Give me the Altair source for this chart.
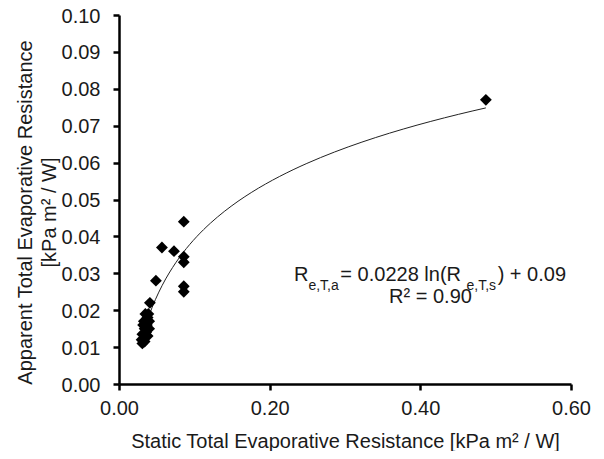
import altair as alt
import pandas as pd

# Static vs apparent total evaporative resistance [kPa m2 / W]
static_r = [0.487,
            0.086, 0.086, 0.086, 0.086, 0.086,
            0.057, 0.073, 0.049, 0.041,
            0.035, 0.038, 0.040, 0.033, 0.037, 0.034, 0.040, 0.031,
            0.038, 0.030, 0.034, 0.031, 0.036, 0.039, 0.032]
apparent_r = [0.077,
              0.044, 0.0345, 0.033, 0.0265, 0.025,
              0.037, 0.036, 0.028, 0.022,
              0.019, 0.018, 0.017, 0.017, 0.016, 0.015, 0.015, 0.0135,
              0.013, 0.012, 0.0115, 0.011, 0.014, 0.019, 0.016]

x_ticks = [0.0, 0.2, 0.4, 0.6]
y_ticks = [0.00, 0.01, 0.02, 0.03, 0.04, 0.05, 0.06, 0.07, 0.08, 0.09, 0.10]

eq_main = ["R", " = 0.0228 ln(R", ") + 0.09"]
eq_sub = ["e,T,a", "e,T,s"]
r2_text = "R² = 0.90"

df = pd.DataFrame({"static": static_r, "apparent": apparent_r})

FONT = "Liberation Sans"
TXT = "#1a1a1a"
FS = 20
FSS = 14

x_enc = alt.X("static:Q",
              scale=alt.Scale(domain=[0, 0.6], nice=False),
              axis=alt.Axis(values=x_ticks, format=".2f", grid=False,
                            labelFlush=False, labelOverlap=False,
                            title="Static Total Evaporative Resistance [kPa m² / W]",
                            titleBaseline="alphabetic", titleY=63,
                            labelPadding=8))
y_enc = alt.Y("apparent:Q",
              scale=alt.Scale(domain=[0, 0.1], nice=False),
              axis=alt.Axis(values=y_ticks, tickCount=11, format=".2f", grid=False,
                            labelFlush=False, labelOverlap=False, labelOffset=1,
                            title=["Apparent Total Evaporative Resistance", "[kPa m² / W]"],
                            titleAngle=-90, titleBaseline="top", titleAlign="center",
                            titleX=-104, titleY=197, titleLineHeight=24,
                            labelPadding=13))

trend = alt.Chart(df).transform_regression(
    "static", "apparent", method="log"
).mark_line(color="#222222", strokeWidth=1).encode(x=x_enc, y=y_enc)

points = alt.Chart(df).mark_point(shape="diamond", filled=True, size=140,
                                  color="black", opacity=1).encode(x=x_enc, y=y_enc)

# Equation pieces (pixel positions inside the plot area)
base_y = 266
sub_y = 275
w = lambda s, f: sum({"R": .722, "e": .556, ",": .278, "T": .611, "a": .556, "s": .5,
                      " ": .278, "=": .584, "0": .556, ".": .278, "2": .556, "8": .556,
                      "l": .222, "n": .556, "(": .333, ")": .333, "+": .584, "9": .556}[c]
                     for c in s) * f
x0 = 175
pieces = []
cx = x0
order = [(eq_main[0], FS), (eq_sub[0], FSS), (eq_main[1], FS), (eq_sub[1], FSS), (eq_main[2], FS)]
for txt, f in order:
    pieces.append((txt, f, cx))
    cx += w(txt, f)

layers = [trend, points]
for txt, f, px in pieces:
    layers.append(
        alt.Chart(df.head(1)).mark_text(align="left", baseline="alphabetic", font=FONT,
                                        fontSize=f, color=TXT).encode(
            x=alt.value(px), y=alt.value(base_y if f == FS else sub_y),
            text=alt.value(txt.replace(" ", "\u00a0")))
    )
layers.append(
    alt.Chart(df.head(1)).mark_text(align="center", baseline="alphabetic", font=FONT,
                                    fontSize=FS, color=TXT).encode(
        x=alt.value(311.5), y=alt.value(288), text=alt.value(r2_text))
)

chart = alt.layer(*layers).properties(
    width=452, height=369,
    autosize=alt.AutoSizeParams(type="none"),
    padding={"left": 111, "top": 7, "right": 25, "bottom": 67},
).configure_view(stroke=None).configure_axis(
    domainColor="black", domainWidth=2.5, tickColor="black", tickWidth=2.5, tickSize=6,
    labelFont=FONT, labelFontSize=FS, labelColor=TXT,
    titleFont=FONT, titleFontSize=FS, titleColor=TXT, titleFontWeight="normal",
)

chart.save("out.html", embed_options={"renderer": "svg", "actions": False})
